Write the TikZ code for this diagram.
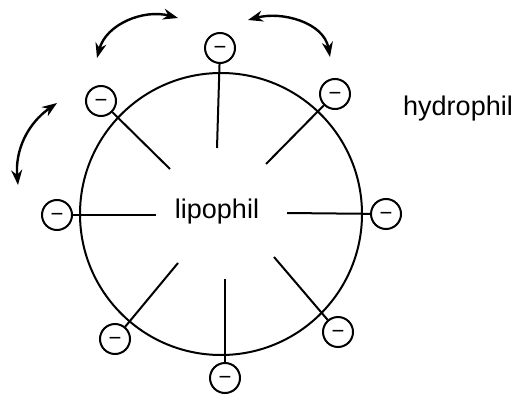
\documentclass[tikz,border=0pt]{standalone}
\usepackage{fontspec}
\setmainfont{Liberation Sans}
\usetikzlibrary{arrows.meta}

\begin{document}
\begin{tikzpicture}
        [x=1pt,y=1pt,line width=2pt,
         ion/.style={circle,draw,minimum size=30pt,inner sep=0pt,
           font=\fontsize{22}{22}\selectfont},
         label/.style={font=\fontsize{27}{30}\selectfont},
         swap/.style={{Stealth[length=15pt,width=11pt]}-{Stealth[length=15pt,width=11pt]},
           line width=2.4pt}]
      \useasboundingbox (0,0) rectangle (518,394);
      \node[circle,draw,minimum size=282pt,inner sep=0pt] (M) at (221,180) {};
      \node[label] (L) at (217,182) {lipophil};
      \node[label] (H) at (458,285) {hydrophil};
      % head groups
      \node[ion] (I1) at (220,346) {−\vphantom{+}};
      \node[ion] (I2) at (335,300) {−\vphantom{+}};
      \node[ion] (I3) at (386,180) {−\vphantom{+}};
      \node[ion] (I4) at (338,62)  {−\vphantom{+}};
      \node[ion] (I5) at (225,16)  {−\vphantom{+}};
      \node[ion] (I6) at (115,55)  {−\vphantom{+}};
      \node[ion] (I7) at (57,179)  {−\vphantom{+}};
      \node[ion] (I8) at (101,293) {−\vphantom{+}};
      % tail ends
      \coordinate (C1) at (217,246);
      \coordinate (C2) at (266,230);
      \coordinate (C3) at (287,181);
      \coordinate (C4) at (274,137);
      \coordinate (C5) at (225,115);
      \coordinate (C6) at (178,131);
      \coordinate (C7) at (156,179);
      \coordinate (C8) at (170,225);
      \foreach \i in {1,...,8}
        \draw (C\i) -- (I\i);
      % movement
      \coordinate (A1) at (97,336);
      \coordinate (B1) at (178,376);
      \coordinate (A2) at (248,374);
      \coordinate (B2) at (330,337);
      \coordinate (A3) at (57,291);
      \coordinate (B3) at (18,209);
      \draw[swap] (A1) to[out=75,in=165] (B1);
      \draw[swap] (A2) to[out=15,in=100] (B2);
      \draw[swap] (A3) to[out=215,in=95] (B3);
\end{tikzpicture}
\end{document}
